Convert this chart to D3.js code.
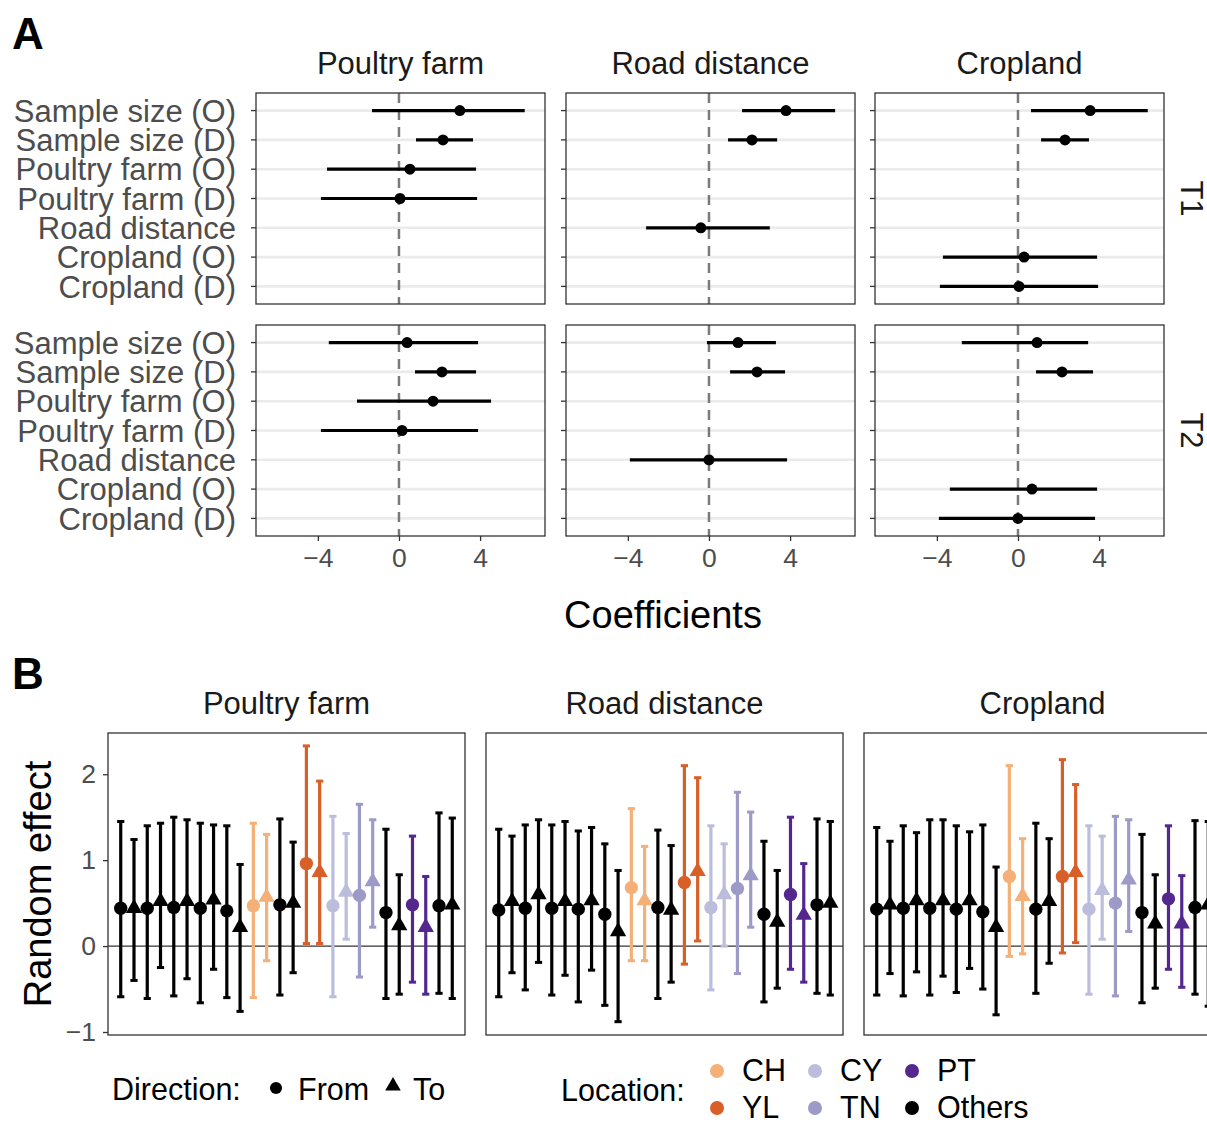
<!DOCTYPE html>
<html><head><meta charset="utf-8">
<script src="https://cdn.jsdelivr.net/npm/d3@7"></script>
<style>
body{margin:0;background:#fff;}
svg{display:block;}
text{font-family:"Liberation Sans",Arial,Helvetica,sans-serif;}
</style>
</head><body>
<svg id="c" width="1207" height="1122"></svg>
<script>
// ---------- Panel A data ----------
const terms = ["Sample size (O)","Sample size (D)","Poultry farm (O)","Poultry farm (D)","Road distance","Cropland (O)","Cropland (D)"];
const facets = ["Poultry farm","Road distance","Cropland"];
const periods = ["T1","T2"];
const xTicksA = [-4,0,4];
// per facet, per term (null = term not in model)
const estT1 = [[3.0,2.17,0.54,0.05,null,null,null],[3.8,2.12,null,null,-0.4,null,null],[3.56,2.32,null,null,null,0.3,0.05]];
const loT1  = [[-1.33,0.84,-3.55,-3.85,null,null,null],[1.63,0.94,null,null,-3.1,null,null],[0.64,1.14,null,null,null,-3.7,-3.85]];
const hiT1  = [[6.2,3.65,3.8,3.85,null,null,null],[6.22,3.36,null,null,3.0,null,null],[6.4,3.5,null,null,null,3.9,3.95]];
const estT2 = [[0.4,2.12,1.68,0.15,null,null,null],[1.43,2.37,null,null,0.0,null,null],[0.94,2.17,null,null,null,0.69,0.0]];
const loT2  = [[-3.46,0.79,-2.07,-3.85,null,null,null],[-0.1,1.04,null,null,-3.9,null,null],[-2.77,0.89,null,null,null,-3.36,-3.9]];
const hiT2  = [[3.9,3.8,4.54,3.9,null,null,null],[3.3,3.75,null,null,3.85,null,null],[3.46,3.7,null,null,null,3.9,3.8]];

// ---------- Panel B data ----------
const locations = ["Others","Others","Others","Others","Others","CH","Others","YL","CY","TN","Others","PT","Others"];
const directions = ["From","To"];
const yTicksB = [-1,0,1,2];
const legendLocs = ["CH","YL","CY","TN","PT","Others"];
const legendColors = ["#f4b076","#d95f28","#bcbddc","#9e9ac8","#54278f","#000000"];
// 26 values: location 1 From, location 1 To, location 2 From, ...
const reEstPoultry = [0.44,0.44,0.44,0.52,0.45,0.52,0.44,0.54,0.41,0.22,0.47,0.57,0.48,0.50,0.96,0.86,0.47,0.63,0.59,0.75,0.39,0.24,0.48,0.22,0.47,0.48];
const reLoPoultry  = [-0.59,-0.40,-0.61,-0.25,-0.58,-0.38,-0.66,-0.27,-0.60,-0.76,-0.60,-0.17,-0.57,-0.31,0.03,0.03,-0.59,0.08,-0.36,0.22,-0.61,-0.56,-0.42,-0.56,-0.55,-0.61];
const reHiPoultry  = [1.45,1.24,1.40,1.43,1.50,1.47,1.43,1.41,1.40,0.95,1.43,1.30,1.48,1.21,2.33,1.92,1.51,1.31,1.65,1.47,1.36,0.83,1.28,0.81,1.55,1.49];
const reEstRoad = [0.42,0.52,0.44,0.60,0.44,0.52,0.43,0.53,0.37,0.17,0.68,0.53,0.45,0.42,0.74,0.87,0.45,0.60,0.67,0.82,0.37,0.28,0.60,0.36,0.48,0.50];
const reLoRoad  = [-0.59,-0.31,-0.51,-0.19,-0.57,-0.34,-0.65,-0.28,-0.69,-0.88,-0.17,-0.17,-0.61,-0.42,-0.21,0.06,-0.51,0.0,-0.32,0.22,-0.65,-0.49,-0.27,-0.42,-0.55,-0.57];
const reHiRoad  = [1.36,1.28,1.41,1.47,1.41,1.45,1.34,1.38,1.19,0.88,1.60,1.16,1.35,1.17,2.10,1.96,1.40,1.19,1.79,1.56,1.22,0.88,1.50,0.96,1.48,1.45];
const reEstCrop = [0.43,0.48,0.44,0.53,0.44,0.53,0.43,0.53,0.40,0.22,0.81,0.58,0.43,0.52,0.81,0.86,0.43,0.65,0.50,0.77,0.39,0.26,0.55,0.26,0.45,0.48];
const reLoCrop  = [-0.57,-0.32,-0.58,-0.30,-0.57,-0.35,-0.54,-0.26,-0.50,-0.80,-0.12,-0.09,-0.55,-0.20,-0.08,0.04,-0.56,0.08,-0.58,0.17,-0.66,-0.49,-0.27,-0.48,-0.56,-0.70];
const reHiCrop  = [1.38,1.22,1.40,1.32,1.47,1.47,1.40,1.33,1.41,0.92,2.10,1.25,1.43,1.25,2.17,1.88,1.40,1.28,1.51,1.47,1.30,0.83,1.40,0.82,1.46,1.45];

// ---------- drawing ----------
const svg = d3.select("#c");
const FONT = '"Liberation Sans",Arial,Helvetica,sans-serif';

// Panel labels
svg.append("text").attr("x",12).attr("y",49).attr("font-size",44).attr("font-weight","bold").text("A");
svg.append("text").attr("x",12).attr("y",689).attr("font-size",44).attr("font-weight","bold").text("B");

// ===== Panel A =====
const pxA = [256,566,875], pwA = 289, pyA = [93,325], phA = 211;
const xA = d3.scaleLinear().domain([-7.05,7.2]).range([0,pwA]);
const yA = d3.scalePoint().domain(terms).range([0,phA]).padding(0.6);
const dataA = [[estT1,loT1,hiT1],[estT2,loT2,hiT2]];

periods.forEach((per,ri)=>{
  facets.forEach((fac,ci)=>{
    const g = svg.append("g").attr("transform",`translate(${pxA[ci]},${pyA[ri]})`);
    g.selectAll("line.grid").data(terms).enter().append("line")
      .attr("x1",0).attr("x2",pwA).attr("y1",d=>yA(d)).attr("y2",d=>yA(d))
      .attr("stroke","#ebebeb").attr("stroke-width",2.6);
    g.append("line").attr("x1",xA(0)).attr("x2",xA(0)).attr("y1",0).attr("y2",phA)
      .attr("stroke","#7a7a7a").attr("stroke-width",2.5).attr("stroke-dasharray","10,7");
    const [est,lo,hi] = dataA[ri];
    const rows = terms.map((t,i)=>({t,e:est[ci][i],l:lo[ci][i],h:hi[ci][i]})).filter(d=>d.e!==null);
    g.selectAll("line.ci").data(rows).enter().append("line")
      .attr("x1",d=>xA(d.l)).attr("x2",d=>xA(d.h)).attr("y1",d=>yA(d.t)).attr("y2",d=>yA(d.t))
      .attr("stroke","#000").attr("stroke-width",3.2);
    g.selectAll("circle").data(rows).enter().append("circle")
      .attr("cx",d=>xA(d.e)).attr("cy",d=>yA(d.t)).attr("r",5.5).attr("fill","#000");
    g.append("rect").attr("x",0).attr("y",0).attr("width",pwA).attr("height",phA)
      .attr("fill","none").attr("stroke","#333").attr("stroke-width",1.3);
    g.selectAll("line.yt").data(terms).enter().append("line")
      .attr("x1",-5).attr("x2",0).attr("y1",d=>yA(d)).attr("y2",d=>yA(d))
      .attr("stroke","#333").attr("stroke-width",1.3);
    if(ci===0){
      g.selectAll("text.yl").data(terms).enter().append("text")
        .attr("x",-20).attr("y",d=>yA(d)).attr("dy","0.36em").attr("text-anchor","end")
        .attr("font-size",31).attr("fill","#4d4d4d").text(d=>d);
    }
    if(ri===0){
      svg.append("text").attr("x",pxA[ci]+pwA/2).attr("y",74).attr("text-anchor","middle")
        .attr("font-size",31).attr("fill","#1a1a1a").text(fac);
    }
    if(ci===2){
      svg.append("text").attr("transform",`translate(${pxA[ci]+pwA+17},${pyA[ri]+phA/2}) rotate(90)`)
        .attr("text-anchor","middle").attr("font-size",31).attr("fill","#1a1a1a").text(per);
    }
    if(ri===1){
      const ax = g.append("g").attr("transform",`translate(0,${phA})`)
        .call(d3.axisBottom(xA).tickValues(xTicksA).tickSize(5).tickPadding(7).tickFormat(d3.format("d")));
      ax.select(".domain").remove();
      ax.selectAll("line").attr("stroke","#333").attr("stroke-width",1.3);
      ax.selectAll("text").attr("font-size",26.5).attr("fill","#4d4d4d").attr("font-family",FONT);
    }
  });
});
svg.append("text").attr("x",663).attr("y",628).attr("text-anchor","middle")
  .attr("font-size",38).attr("fill","#000").text("Coefficients");

// ===== Panel B =====
const pxB = [108,486,864], pwB = 357, pyB = 733, phB = 302;
const xB = d3.scalePoint().domain(d3.range(locations.length)).range([0,pwB]).padding(0.73);
const dodge = xB.step()*0.25;
const yB = d3.scaleLinear().domain([-1.035,2.48]).range([phB,0]);
const color = d3.scaleOrdinal().domain(legendLocs).range(legendColors);
const shape = d3.scaleOrdinal().domain(directions).range([d3.symbolCircle,d3.symbolTriangle]);
const shapeSize = d3.scaleOrdinal().domain(directions).range([140,115]);
const dataB = [[reEstPoultry,reLoPoultry,reHiPoultry],[reEstRoad,reLoRoad,reHiRoad],[reEstCrop,reLoCrop,reHiCrop]];

facets.forEach((fac,ci)=>{
  const g = svg.append("g").attr("transform",`translate(${pxB[ci]},${pyB})`);
  g.append("line").attr("x1",0).attr("x2",pwB).attr("y1",yB(0)).attr("y2",yB(0))
    .attr("stroke","#333").attr("stroke-width",1.2);
  const [est,lo,hi] = dataB[ci];
  const rows = est.map((e,i)=>{
    const li = Math.floor(i/2), dir = directions[i%2];
    return {loc:locations[li], li, dir, e, l:lo[i], h:hi[i]};
  });
  const xp = d => xB(d.li) + (d.dir==="From" ? -dodge : dodge);
  const eg = g.selectAll("g.eb").data(rows).enter().append("g");
  eg.append("line").attr("x1",xp).attr("x2",xp).attr("y1",d=>yB(d.l)).attr("y2",d=>yB(d.h))
    .attr("stroke",d=>color(d.loc)).attr("stroke-width",3.2);
  eg.append("line").attr("x1",d=>xp(d)-3.6).attr("x2",d=>xp(d)+3.6).attr("y1",d=>yB(d.l)).attr("y2",d=>yB(d.l))
    .attr("stroke",d=>color(d.loc)).attr("stroke-width",3);
  eg.append("line").attr("x1",d=>xp(d)-3.6).attr("x2",d=>xp(d)+3.6).attr("y1",d=>yB(d.h)).attr("y2",d=>yB(d.h))
    .attr("stroke",d=>color(d.loc)).attr("stroke-width",3);
  eg.append("path").attr("transform",d=>`translate(${xp(d)},${yB(d.e)})`)
    .attr("d",d=>d3.symbol().type(shape(d.dir)).size(shapeSize(d.dir))())
    .attr("fill",d=>color(d.loc));
  g.append("rect").attr("x",0).attr("y",0).attr("width",pwB).attr("height",phB)
    .attr("fill","none").attr("stroke","#333").attr("stroke-width",1.3);
  svg.append("text").attr("x",pxB[ci]+pwB/2).attr("y",714).attr("text-anchor","middle")
    .attr("font-size",31).attr("fill","#1a1a1a").text(fac);
  if(ci===0){
    const ay = g.append("g").call(d3.axisLeft(yB).tickValues(yTicksB).tickSize(5).tickPadding(7).tickFormat(d3.format("d")));
    ay.select(".domain").remove();
    ay.selectAll("line").attr("stroke","#333").attr("stroke-width",1.3);
    ay.selectAll("text").attr("font-size",26.5).attr("fill","#4d4d4d").attr("font-family",FONT);
  }
});
svg.append("text").attr("transform",`translate(51,${pyB+phB/2}) rotate(-90)`).attr("text-anchor","middle")
  .attr("font-size",38).attr("fill","#000").text("Random effect");

// ===== Legends =====
svg.append("text").attr("x",112).attr("y",1100).attr("font-size",30.5).text("Direction:");
const dirX = [276,393], dirTX = [298,413];
directions.forEach((d,i)=>{
  svg.append("path").attr("transform",`translate(${dirX[i]},${i===0?1088:1086})`)
    .attr("d",d3.symbol().type(shape(d)).size(i===0?115:105)()).attr("fill","#000");
  svg.append("text").attr("x",dirTX[i]).attr("y",1100).attr("font-size",30.5).text(d);
});
svg.append("text").attr("x",561).attr("y",1101).attr("font-size",30.5).text("Location:");
const legCX = [717,717,815,815,912,912], legCY = [1071,1108,1071,1108,1071,1108];
legendLocs.forEach((l,i)=>{
  svg.append("circle").attr("cx",legCX[i]).attr("cy",legCY[i]).attr("r",7).attr("fill",color(l));
  svg.append("text").attr("x",legCX[i]+25).attr("y",legCY[i]+10).attr("font-size",30.5).text(l);
});
</script>
</body></html>
